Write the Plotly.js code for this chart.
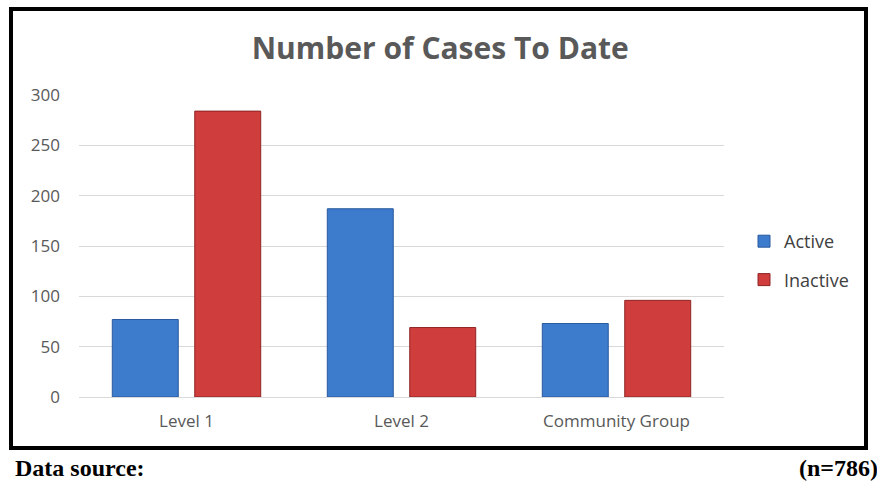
<!DOCTYPE html>
<html>
<head>
<meta charset="utf-8">
<script src="https://cdn.plot.ly/plotly-3.0.1.min.js"></script>
<style>
html,body{margin:0;padding:0;background:#fff;}
#chart{width:877px;height:485px;}
</style>
</head>
<body>
<div id="chart"></div>
<script>
const categories = ["Level 1", "Level 2", "Community Group"];
const activeValues = [77, 187, 73];
const inactiveValues = [284, 69, 96];
const seriesNames = ["Active", "Inactive"];
const yTicks = [0, 50, 100, 150, 200, 250, 300];
const chartTitle = "Number of Cases To Date";
const footLeft = "Data source:";
const footRight = "(n=786)";

const L = 79, R = 153, T = 95, B = 88;
const W = 877, H = 485;
const pw = W - L - R, ph = H - T - B;
const px = v => (v - L) / pw;
const py = v => (H - B - v) / ph;
const sans = "'Open Sans', Lato, sans-serif";
const serif = "'Liberation Serif', 'DejaVu Serif', serif";

const traces = [
  {type: "bar", name: seriesNames[0], x: categories, y: activeValues, legendgroup: "a",
   marker: {color: "#3D7BCD", line: {color: "#2A5A9E", width: 1}}},
  {type: "bar", name: seriesNames[1], x: categories, y: inactiveValues, legendgroup: "b",
   marker: {color: "#CF3D3D", line: {color: "#8E2424", width: 1}}}
];

const layout = {
  width: W, height: H,
  margin: {l: L, r: R, t: T, b: B},
  paper_bgcolor: "#fff", plot_bgcolor: "#fff",
  barmode: "group", bargap: 0.233, bargroupgap: 0.2,
  font: {family: sans, color: "#595959", size: 17},
  title: {text: "<b>" + chartTitle + "</b>", x: 0.502, xanchor: "center", y: 1 - 48 / H, yanchor: "middle",
          font: {family: sans, size: 30, color: "#595959"}},
  xaxis: {type: "category", showgrid: false, showline: false, ticks: "", zeroline: false,
          ticklabelstandoff: 12, tickfont: {family: sans, size: 17, color: "#595959"}},
  yaxis: {range: [0, 300], tickvals: yTicks, ticktext: yTicks.map(String), showgrid: true,
          gridcolor: "#D9D9D9", gridwidth: 1, zeroline: true, zerolinecolor: "#D9D9D9", zerolinewidth: 1,
          showline: false, ticks: "", ticklabelstandoff: 18, tickfont: {family: sans, size: 17, color: "#595959"}},
  showlegend: true,
  legend: {x: px(744), xanchor: "left", y: py(223), yanchor: "top", traceorder: "grouped",
           tracegroupgap: 12, font: {family: sans, size: 18, color: "#404040"}, itemwidth: 30, bgcolor: "rgba(0,0,0,0)"},
  shapes: [
    {type: "rect", xref: "paper", yref: "paper", x0: px(11), x1: px(866), y0: py(448), y1: py(9),
     line: {color: "#000", width: 4}, fillcolor: "rgba(0,0,0,0)", layer: "above"}
  ],
  annotations: [
    {text: "<b>" + footLeft + "</b>", xref: "paper", yref: "paper", x: px(13), y: py(468),
     xanchor: "left", yanchor: "middle", showarrow: false,
     font: {family: serif, size: 24, color: "#000"}},
    {text: "<b>" + footRight + "</b>", xref: "paper", yref: "paper", x: px(880), y: py(468),
     xanchor: "right", yanchor: "middle", showarrow: false,
     font: {family: serif, size: 24, color: "#000"}}
  ]
};

Plotly.newPlot("chart", traces, layout, {displayModeBar: false, staticPlot: true});
</script>
</body>
</html>
